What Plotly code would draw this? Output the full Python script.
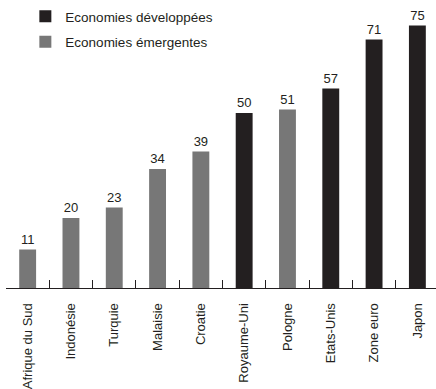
import plotly.graph_objects as go

categories = ["Afrique du Sud", "Indonésie", "Turquie", "Malaisie", "Croatie",
              "Royaume-Uni", "Pologne", "Etats-Unis", "Zone euro", "Japon"]
values = [11, 20, 23, 34, 39, 50, 51, 57, 71, 75]
group = ["em", "em", "em", "em", "em", "dev", "em", "dev", "dev", "dev"]

series_names = {"dev": "Economies développées", "em": "Economies émergentes"}
series_colors = {"dev": "#231f20", "em": "#777777"}
text_color = "#231f20"
font_family = "Liberation Sans, Arial, sans-serif"

fig = go.Figure()
for key in ["dev", "em"]:
    xs = [c for c, g in zip(categories, group) if g == key]
    ys = [v for v, g in zip(values, group) if g == key]
    fig.add_trace(go.Bar(
        x=xs, y=ys, name=series_names[key],
        marker=dict(color=series_colors[key], line=dict(width=0)),
        width=0.39,
        text=[str(v) for v in ys], textposition="outside",
        textfont=dict(size=13, color=text_color, family=font_family),
        cliponaxis=False,
        legendgroup=key,
    ))

fig.update_layout(
    width=436, height=389,
    margin=dict(l=6, r=0, t=8, b=101, autoexpand=False),
    paper_bgcolor="white", plot_bgcolor="white",
    barmode="overlay",
    font=dict(family=font_family, size=13, color=text_color),
    showlegend=True,
    legend=dict(x=0.045, y=1.025, xanchor="left", yanchor="top",
                font=dict(size=13.5, color=text_color),
                bgcolor="rgba(0,0,0,0)", tracegroupgap=5,
                itemwidth=30),
    xaxis=dict(type="category", categoryorder="array", categoryarray=categories,
               range=[-0.5, 9.43], showline=True, linecolor="#231f20", linewidth=1,
               ticks="inside", tickson="boundaries", ticklen=8, tickcolor="#231f20",
               tickwidth=1, tickangle=-90, showgrid=False, automargin=False,
               tickfont=dict(size=13, color=text_color), ticklabelstandoff=9),
    yaxis=dict(range=[0, 80], visible=False, showgrid=False, zeroline=False,
               automargin=False),
)

fig.write_html("out.html", config={"displayModeBar": False},
               post_script="document.body.style.margin='0';")
